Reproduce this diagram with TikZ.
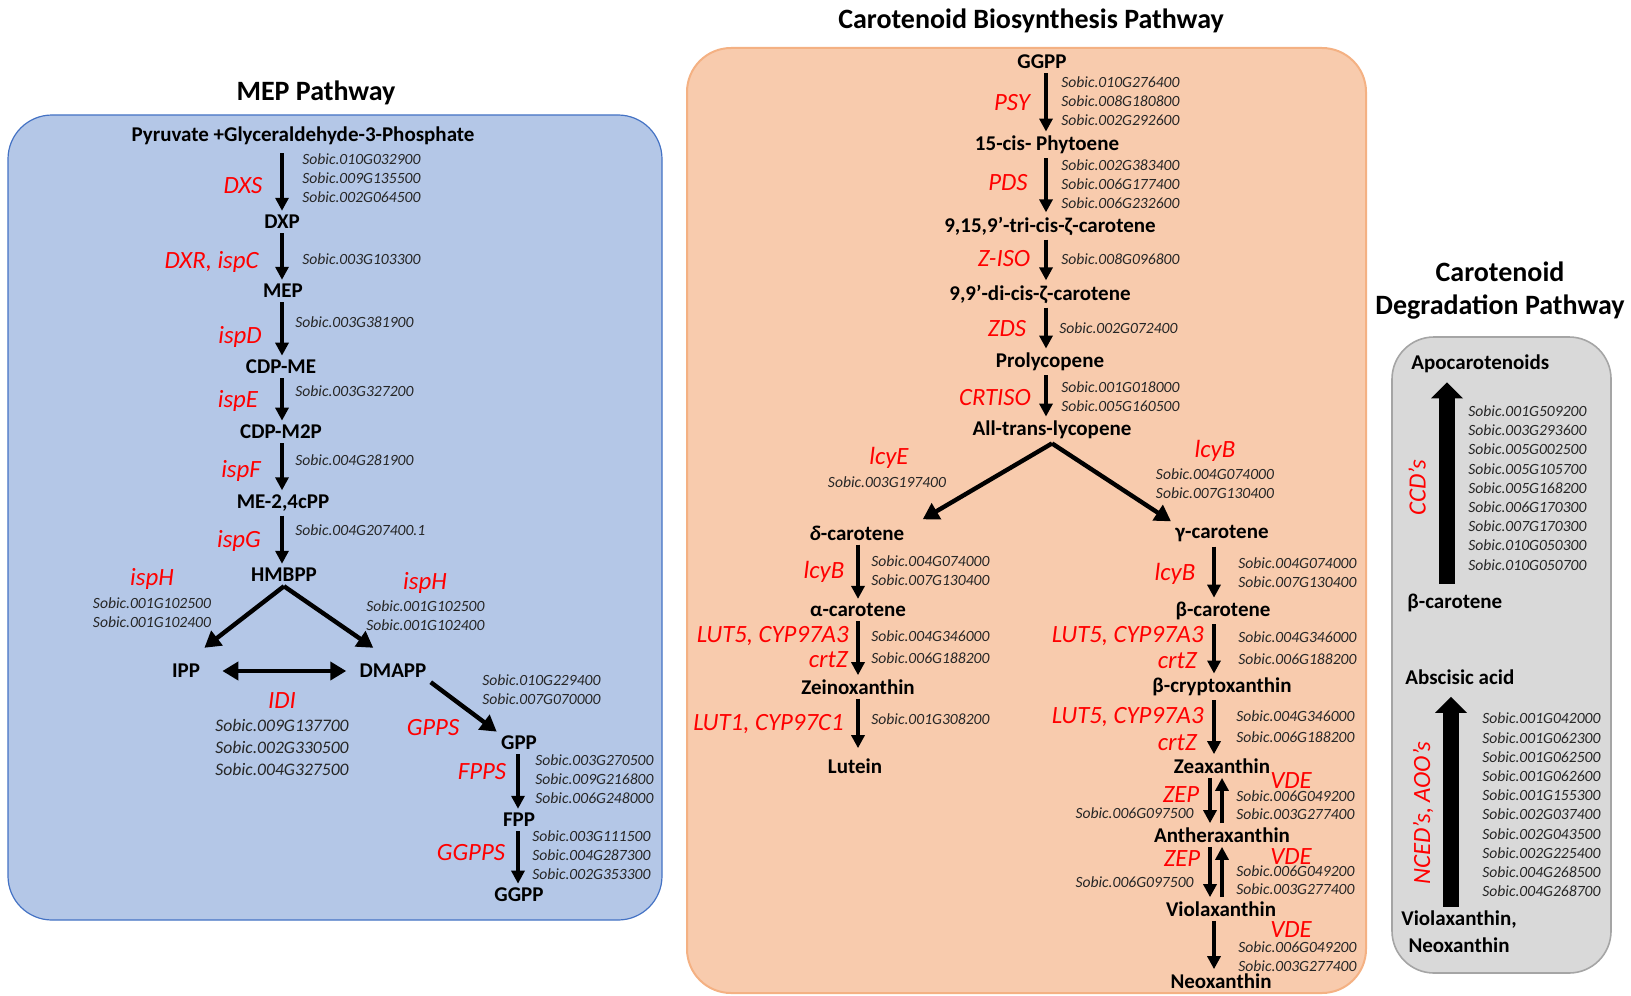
\documentclass[tikz,border=0pt]{standalone}
\usepackage{fontspec}
\setmainfont{Carlito}
\usetikzlibrary{arrows.meta}
\definecolor{mepfill}{HTML}{B4C7E7}
\definecolor{mepline}{HTML}{4472C4}
\definecolor{carfill}{HTML}{F8CBAD}
\definecolor{carline}{HTML}{F4B183}
\definecolor{degfill}{HTML}{D9D9D9}
\definecolor{degline}{HTML}{A5A5A5}
\definecolor{genetext}{HTML}{262626}
\begin{document}
\begin{tikzpicture}[x=0.5pt,y=-0.5pt,
  met/.style={font=\fontsize{10.5}{12}\selectfont\bfseries,inner sep=2pt},
  ttl/.style={font=\fontsize{14}{16.5}\selectfont\bfseries,align=center},
  enz/.style={font=\fontsize{12.4}{14}\selectfont\itshape,text=red,inner sep=1pt},
  gene/.style={font=\fontsize{7.8}{9.6}\selectfont\itshape,text=genetext,align=left,anchor=west,inner sep=1pt},
  tightgene/.style={gene,font=\fontsize{7.8}{8.9}\selectfont\itshape,inner sep=0pt},
  arr/.style={-{Triangle[width=6.5pt,length=6.5pt]},line width=1.6pt},
  thickarr/.style={-{Triangle[width=9pt,length=8pt]},line width=2.2pt},
  dblarr/.style={{Triangle[width=9pt,length=8pt]}-{Triangle[width=9pt,length=8pt]},line width=2.4pt},
  bigarr/.style={-{Triangle[width=15.5pt,length=8pt]},line width=8pt},
  box/.style={rounded corners=22pt}]

    \useasboundingbox (0,0) rectangle (1631,995);

    \draw[box,fill=mepfill,draw=mepline,line width=0.6pt] (8,115) rectangle (662,920);
    \draw[box,fill=carfill,draw=carline,line width=1pt] (687,48) rectangle (1366,993);
    \draw[box,rounded corners=21pt,fill=degfill,draw=degline,line width=0.8pt] (1392,337) rectangle (1611,973);

    \node[ttl] (mept) at (316,93) {MEP Pathway};
    \node[ttl] (cart) at (1031,21) {Carotenoid Biosynthesis Pathway};
    \node[ttl] (degt) at (1500,291) {Carotenoid\\Degradation Pathway};

    \coordinate (mcol) at (282,0);
    \coordinate (gcol) at (518,0);
    \coordinate (ccol) at (1046,0);
    \coordinate (lcol) at (858,0);
    \coordinate (rcol) at (1214,0);
    \coordinate (zcol) at (1210,0);
    \coordinate (vcol) at (1222,0);
    \coordinate (dcol1) at (1447,0);
    \coordinate (dcol2) at (1451,0);

    \node[met] (pyr) at (303,136) {Pyruvate +Glyceraldehyde-3-Phosphate};
    \node[met] (dxp) at (282,222) {DXP};
    \node[met] (mep) at (283,291) {MEP};
    \node[met] (cdpme) at (281,367) {CDP-ME};
    \node[met] (cdpm2p) at (281,432) {CDP-M2P};
    \node[met] (mecpp) at (283,503) {ME-2,4cPP};
    \node[met] (hmbpp) at (284,575) {HMBPP};
    \node[met] (ipp) at (186,671) {IPP};
    \node[met] (dmapp) at (393,671) {DMAPP};
    \node[met] (gpp) at (519,743) {GPP};
    \node[met] (fpp) at (519,820) {FPP};
    \node[met] (ggpp) at (519,895) {GGPP};

    \node[enz] (dxs) at (243,186) {DXS};
    \node[enz,anchor=east] (dxr) at (261,262) {DXR, ispC};
    \node[enz] (ispd) at (240,337) {ispD};
    \node[enz] (ispe) at (238,401) {ispE};
    \node[enz] (ispf) at (241,471) {ispF};
    \node[enz] (ispg) at (239,541) {ispG};
    \node[enz] (isphl) at (152,579) {ispH};
    \node[enz] (isphr) at (425,583) {ispH};
    \node[enz] (idi) at (282,701) {IDI};
    \node[enz] (gpps) at (433,728) {GPPS};
    \node[enz] (fpps) at (482,772) {FPPS};
    \node[enz] (ggpps) at (471,853) {GGPPS};

    \node[gene] (dxsg) at (300,178) {Sobic.010G032900\\Sobic.009G135500\\Sobic.002G064500};
    \node[gene] (dxrg) at (300,259) {Sobic.003G103300};
    \node[gene] (ispdg) at (293,322) {Sobic.003G381900};
    \node[gene] (ispeg) at (293,391) {Sobic.003G327200};
    \node[gene] (ispfg) at (293,460) {Sobic.004G281900};
    \node[gene] (ispgg) at (293,530) {Sobic.004G207400.1};
    \node[gene,anchor=center,align=center] (isphlg) at (152,613) {Sobic.001G102500\\Sobic.001G102400};
    \node[gene] (isphrg) at (364,616) {Sobic.001G102500\\Sobic.001G102400};
    \node[gene,anchor=center,align=center,font=\fontsize{8.8}{11}\selectfont\itshape] (idig) at (282,747) {Sobic.009G137700\\Sobic.002G330500\\Sobic.004G327500};
    \node[gene] (gppsg) at (480,690) {Sobic.010G229400\\Sobic.007G070000};
    \node[gene] (fppsg) at (533,779) {Sobic.003G270500\\Sobic.009G216800\\Sobic.006G248000};
    \node[gene] (ggppsg) at (530,855) {Sobic.003G111500\\Sobic.004G287300\\Sobic.002G353300};

    \draw[arr,shorten <=2pt] (pyr.south -| mcol) -- (dxp.north -| mcol);
    \draw[arr] (dxp.south -| mcol) -- (mep.north -| mcol);
    \draw[arr] (mep.south -| mcol) -- (cdpme.north -| mcol);
    \draw[arr] (cdpme.south -| mcol) -- (cdpm2p.north -| mcol);
    \draw[arr] (cdpm2p.south -| mcol) -- (mecpp.north -| mcol);
    \draw[arr] (mecpp.south -| mcol) -- (hmbpp.north -| mcol);
    \draw[thickarr] (hmbpp.south) -- ([yshift=6pt]ipp.north east);
    \draw[thickarr] (hmbpp.south) -- ([shift={(9pt,6pt)}]dmapp.north west);
    \draw[dblarr,shorten <=9pt,shorten >=4.5pt] (ipp.east) -- (dmapp.west);
    \draw[thickarr] (dmapp.south east) -- (gpp.north west);
    \draw[arr] (gpp.south -| gcol) -- (fpp.north -| gcol);
    \draw[arr] (fpp.south -| gcol) -- (ggpp.north -| gcol);

    \node[met] (ggppc) at (1042,62) {GGPP};
    \node[met] (phyt) at (1047,145) {15-cis- Phytoene};
    \node[met] (tzc) at (1050,226) {9,15,9’-tri-cis-ζ-carotene};
    \node[met] (dzc) at (1040,294) {9,9’-di-cis-ζ-carotene};
    \node[met] (prolyc) at (1050,362) {Prolycopene};
    \node[met] (lyc) at (1052,430) {All-trans-lycopene};
    \node[met] (dcar) at (857,533) {{\itshape δ}-carotene};
    \node[met] (gcar) at (1222,534) {γ-carotene};
    \node[met] (acar) at (858,610) {α-carotene};
    \node[met] (zeino) at (858,687) {Zeinoxanthin};
    \node[met] (lut) at (855,766) {Lutein};
    \node[met] (bcar) at (1223,611) {β-carotene};
    \node[met] (bcry) at (1222,687) {β-cryptoxanthin};
    \node[met] (zea) at (1222,766) {Zeaxanthin};
    \node[met] (anth) at (1222,835) {Antheraxanthin};
    \node[met] (viol) at (1221,909) {Violaxanthin};
    \node[met] (neo) at (1221,981) {Neoxanthin};

    \node[enz] (psy) at (1012,103) {PSY};
    \node[enz] (pds) at (1008,183) {PDS};
    \node[enz] (ziso) at (1004,259) {Z-ISO};
    \node[enz] (zds) at (1007,329) {ZDS};
    \node[enz] (crtiso) at (995,398) {CRTISO};
    \node[enz] (lcye) at (889,458) {lcyE};
    \node[enz] (lcybt) at (1215,451) {lcyB};
    \node[enz] (lcybl) at (824,572) {lcyB};
    \node[enz,anchor=east] (lut5l) at (851,636) {LUT5, CYP97A3};
    \node[enz,anchor=east] (crtzl) at (850,660) {crtZ};
    \node[enz,anchor=east] (lut1) at (846,724) {LUT1, CYP97C1};
    \node[enz] (lcybr) at (1175,574) {lcyB};
    \node[enz,anchor=east] (lut5ra) at (1206,636) {LUT5, CYP97A3};
    \node[enz,anchor=east] (crtzra) at (1199,661) {crtZ};
    \node[enz,anchor=east] (lut5rb) at (1206,717) {LUT5, CYP97A3};
    \node[enz,anchor=east] (crtzrb) at (1199,743) {crtZ};
    \node[enz] (zepa) at (1181,795) {ZEP};
    \node[enz] (zepb) at (1182,859) {ZEP};
    \node[enz] (vdea) at (1291,781) {VDE};
    \node[enz] (vdeb) at (1291,857) {VDE};
    \node[enz] (vdec) at (1291,930) {VDE};

    \node[gene] (psyg) at (1059,101) {Sobic.010G276400\\Sobic.008G180800\\Sobic.002G292600};
    \node[gene] (pdsg) at (1059,184) {Sobic.002G383400\\Sobic.006G177400\\Sobic.006G232600};
    \node[gene] (zisog) at (1059,259) {Sobic.008G096800};
    \node[gene] (zdsg) at (1057,328) {Sobic.002G072400};
    \node[gene] (crtisog) at (1059,397) {Sobic.001G018000\\Sobic.005G160500};
    \node[gene,anchor=center,align=center] (lcyeg) at (887,482) {Sobic.003G197400};
    \node[gene,anchor=center,align=center] (lcybtg) at (1215,484) {Sobic.004G074000\\Sobic.007G130400};
    \node[gene] (lcyblg) at (869,571) {Sobic.004G074000\\Sobic.007G130400};
    \node[gene] (lut5lg) at (869,647) {Sobic.004G346000\\[1.5pt]Sobic.006G188200};
    \node[gene] (lut1g) at (869,719) {Sobic.001G308200};
    \node[gene] (lcybrg) at (1236,573) {Sobic.004G074000\\Sobic.007G130400};
    \node[gene] (lut5rag) at (1236,648) {Sobic.004G346000\\[1.5pt]Sobic.006G188200};
    \node[tightgene] (lut5rbg) at (1236,727) {Sobic.004G346000\\[1.5pt]Sobic.006G188200};
    \node[gene,anchor=east] (zepag) at (1196,813) {Sobic.006G097500};
    \node[gene,anchor=east] (zepbg) at (1196,882) {Sobic.006G097500};
    \node[tightgene] (vdeag) at (1236,805) {Sobic.006G049200\\Sobic.003G277400};
    \node[tightgene] (vdebg) at (1236,880) {Sobic.006G049200\\Sobic.003G277400};
    \node[gene] (vdecg) at (1236,957) {Sobic.006G049200\\Sobic.003G277400};

    \draw[arr] (ggppc.south -| ccol) -- (phyt.north -| ccol);
    \draw[arr] (phyt.south -| ccol) -- (tzc.north -| ccol);
    \draw[arr] (tzc.south -| ccol) -- (dzc.north -| ccol);
    \draw[arr] (dzc.south -| ccol) -- (prolyc.north -| ccol);
    \draw[arr] (prolyc.south -| ccol) -- (lyc.north -| ccol);
    \draw[thickarr] (lyc.south) -- ([shift={(7pt,1pt)}]dcar.north east);
    \draw[thickarr] (lyc.south) -- (gcar.north west);
    \draw[arr] (dcar.south -| lcol) -- (acar.north -| lcol);
    \draw[arr] (acar.south -| lcol) -- (zeino.north -| lcol);
    \draw[arr,shorten >=3pt] (zeino.south -| lcol) -- (lut.north -| lcol);
    \draw[arr] (gcar.south -| rcol) -- (bcar.north -| rcol);
    \draw[arr] (bcar.south -| rcol) -- (bcry.north -| rcol);
    \draw[arr] (bcry.south -| rcol) -- (zea.north -| rcol);
    \draw[arr] (zea.south -| zcol) -- (anth.north -| zcol);
    \draw[arr] (anth.north -| vcol) -- (zea.south -| vcol);
    \draw[arr] (anth.south -| zcol) -- (viol.north -| zcol);
    \draw[arr] (viol.north -| vcol) -- (anth.south -| vcol);
    \draw[arr] (viol.south -| rcol) -- (neo.north -| rcol);

    \node[met,anchor=west] (apo) at (1407,364) {Apocarotenoids};
    \node[met,anchor=west] (bcard) at (1403,603) {β-carotene};
    \node[met,anchor=west] (aba) at (1401,677) {Abscisic acid};
    \node[met,align=center,font=\fontsize{10.5}{13.5}\selectfont\bfseries] (violneo) at (1459,932) {Violaxanthin,\\Neoxanthin};

    \node[enz,rotate=90] (ccd) at (1417,488) {CCD’s};
    \node[enz,rotate=90] (nced) at (1423,813) {NCED’s, AOO’s};

    \node[gene] (ccdg) at (1466,488) {Sobic.001G509200\\Sobic.003G293600\\Sobic.005G002500\\Sobic.005G105700\\Sobic.005G168200\\Sobic.006G170300\\Sobic.007G170300\\Sobic.010G050300\\Sobic.010G050700};
    \node[gene] (ncedg) at (1480,805) {Sobic.001G042000\\Sobic.001G062300\\Sobic.001G062500\\Sobic.001G062600\\Sobic.001G155300\\Sobic.002G037400\\Sobic.002G043500\\Sobic.002G225400\\Sobic.004G268500\\Sobic.004G268700};

    \draw[bigarr,shorten <=3pt,shorten >=2.5pt] (bcard.north -| dcol1) -- (apo.south -| dcol1);
    \draw[bigarr,shorten >=4pt] (violneo.north -| dcol2) -- (aba.south -| dcol2);
\end{tikzpicture}
\end{document}
